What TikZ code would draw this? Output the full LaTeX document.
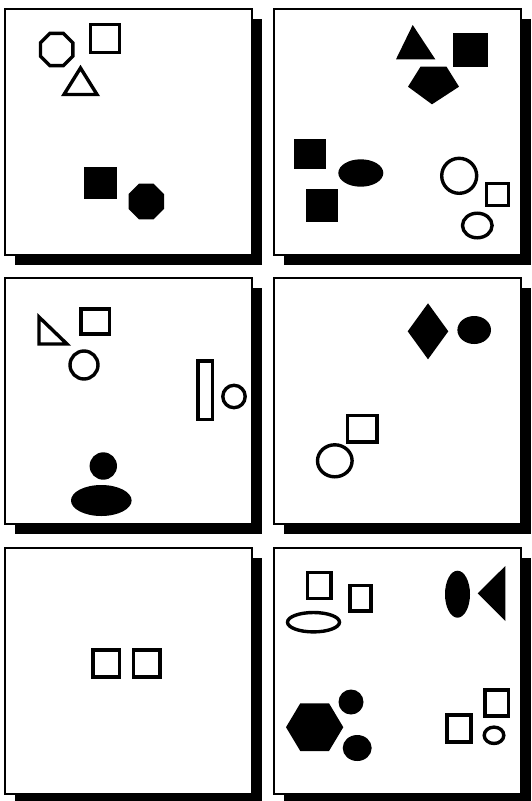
\documentclass[tikz,border=0pt]{standalone}
\usetikzlibrary{shapes.geometric}

\begin{document}
\begin{tikzpicture}[
  x=1pt, y=-1pt,
  panel/.style={draw, line width=1.5pt, fill=white},
  shade/.style={fill=black},
  openfig/.style={draw, line width=3.4pt, fill=white, inner sep=0pt},
  filledfig/.style={fill=black, inner sep=0pt},
  openbox/.style={openfig, rectangle},
  filledbox/.style={filledfig, rectangle}
]
\useasboundingbox (0,0) rectangle (532,801);

% six frames with their shadows
\foreach \px/\py in {5/9, 274/9, 5/278, 274/278, 5/548, 274/548} {
  \fill[shade] (\px+10,\py+10) rectangle +(247,246);
  \draw[panel] (\px,\py) rectangle +(247,246);
}

% top left
\node [openfig, regular polygon, regular polygon sides=8, minimum size=35] (aOct) at (56.7,49.5) {};
\node [openbox, minimum width=29, minimum height=28] (aBox) at (105,38.5) {};
\draw [openfig] (80.5,68) -- (97,94.5) -- (64,94.5) -- cycle;
\node [filledbox, minimum size=32.7] (aSolidBox) at (100.3,183) {};
\node [filledfig, regular polygon, regular polygon sides=8, minimum size=38.5] (aSolidOct) at (146.3,201.5) {};

% top right
\fill (412.7,25) -- (435.3,59.3) -- (396,59.3) -- cycle;
\node [filledbox, minimum width=35, minimum height=34] (bBox) at (470.2,49.5) {};
\fill (420.5,66.7) -- (446.5,66.7) -- (459,86.7) -- (432,104.3) -- (408,86.7) -- cycle;
\node [filledbox, minimum width=32, minimum height=30] (bBoxA) at (309.8,154.3) {};
\node [filledfig, ellipse, minimum width=45, minimum height=27.4] (bOval) at (360.8,173) {};
\node [filledbox, minimum size=32.3] (bBoxB) at (322.2,205.5) {};
\node [openfig, circle, minimum size=35] (bRing) at (459.2,175.8) {};
\node [openbox, minimum size=22] (bSmallBox) at (497.7,194.2) {};
\node [openfig, ellipse, minimum width=29.6, minimum height=24.6] (bOval2) at (477.3,225.5) {};

% middle left
\draw [openfig] (39,317) -- (39,344) -- (67,344) -- cycle;
\node [openbox, minimum width=28.7, minimum height=25.3] (cBox) at (95.2,321.5) {};
\node [openfig, circle, minimum size=28] (cRing) at (84,365) {};
\node [openbox, minimum width=14.3, minimum height=58.7] (cBar) at (205.3,390.2) {};
\node [openfig, circle, minimum size=22.4] (cDot) at (234,396.5) {};
\node [filledfig, circle, minimum size=27.4] (cHead) at (103.3,466) {};
\node [filledfig, ellipse, minimum width=60.6, minimum height=31] (cBody) at (101.3,500.5) {};

% middle right
\fill (428,303.3) -- (448.3,331.3) -- (428,359.3) -- (407.7,331.3) -- cycle;
\node [filledfig, ellipse, minimum width=33.6, minimum height=28] (dOval) at (474.2,330) {};
\node [openbox, minimum width=29.3, minimum height=26.3] (dBox) at (362.2,428.7) {};
\node [openfig, ellipse, minimum width=34.6, minimum height=32] (dOval2) at (334.8,460.8) {};

% bottom left
\node [openbox, minimum width=26.3, minimum height=27] (eBoxA) at (106.3,663.3) {};
\node [openbox, minimum width=26.3, minimum height=27] (eBoxB) at (146.7,663.3) {};

% bottom right
\node [openbox, minimum width=23.7, minimum height=26] (fBoxA) at (319.3,585.5) {};
\node [openbox, minimum width=21.3, minimum height=25.7] (fBoxB) at (360.5,598.3) {};
\node [openfig, ellipse, minimum width=52, minimum height=19.4] (fFlat) at (313.5,622.2) {};
\node [filledfig, ellipse, minimum width=25, minimum height=47] (fEgg) at (457.5,594.2) {};
\fill (477.7,593.3) -- (505.3,566) -- (505.3,621) -- cycle;
\fill (286,727.2) -- (300.3,703.3) -- (329,703.3) -- (343.3,727.2) -- (329,751) -- (300.3,751) -- cycle;
\node [filledfig, circle, minimum size=25] (fDotA) at (351,702) {};
\node [filledfig, ellipse, minimum width=29, minimum height=26] (fDotB) at (357.2,748) {};
\node [openbox, minimum width=23.7, minimum height=26.3] (fBoxC) at (496.7,703) {};
\node [openbox, minimum width=24.3, minimum height=27] (fBoxD) at (459,728.3) {};
\node [openfig, ellipse, minimum width=19.6, minimum height=16.4] (fRing) at (494,735.3) {};

\end{tikzpicture}
\end{document}
